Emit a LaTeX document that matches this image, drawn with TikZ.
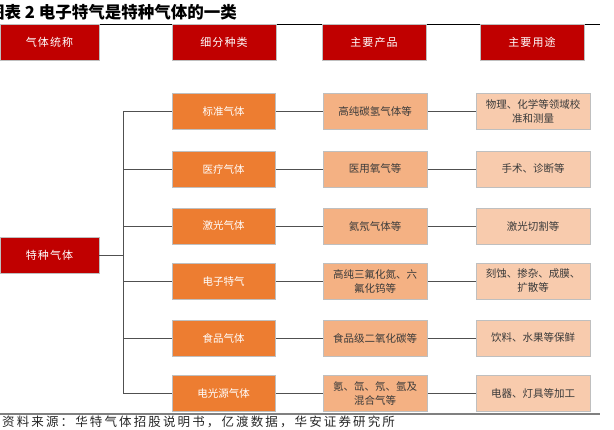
\documentclass[tikz,border=0pt]{standalone}
\usepackage{fontspec}
\setmainfont{Noto Sans CJK SC}
\newfontfamily\cjk{Noto Sans CJK SC}
\newfontfamily\cjkwide{Noto Sans CJK SC}[LetterSpace=17]
\newfontfamily\cjkhdr{Noto Sans CJK SC}[LetterSpace=10]
\definecolor{hdrred}{HTML}{C00000}
\definecolor{orng}{HTML}{ED7D31}
\definecolor{prod}{HTML}{F4B183}
\definecolor{usec}{HTML}{F8CBAD}
\definecolor{bord}{HTML}{BFBFBF}
\definecolor{lnc}{HTML}{505050}
\definecolor{txd}{HTML}{3A3A3A}
\tikzset{
  hdr/.style={fill=hdrred, draw=bord, line width=0.6pt, minimum width=104pt, minimum height=36pt, inner sep=0pt, text=white, font=\cjkhdr\fontsize{11}{13}\selectfont},
  catbox/.style={fill=orng, draw=bord, line width=1pt, minimum width=103pt, minimum height=36pt, inner sep=0pt, text=white, font=\cjk\fontsize{10.5}{13}\selectfont},
  prodbox/.style={fill=prod, draw=bord, line width=1pt, minimum width=104pt, minimum height=36pt, inner sep=0pt, align=center, text=txd, font=\cjk\fontsize{10.5}{14}\selectfont},
  usebox/.style={fill=usec, draw=bord, line width=1pt, minimum width=114pt, minimum height=36pt, inner sep=0pt, align=center, text=txd, font=\cjk\fontsize{10.5}{14}\selectfont},
  conn/.style={draw=lnc, line width=1pt},
}
\begin{document}
\begin{tikzpicture}[x=1pt,y=-1pt]
\useasboundingbox (0,0) rectangle (614,429);
% title
\node[anchor=west, inner sep=0pt, font=\cjk\bfseries\fontsize{16.5}{18}\selectfont] (title) at (-12,12) {图表 2 电子特气是特种气体的一类};
\coordinate (tl0) at (0,24);
\coordinate (tl1) at (600,24);
\draw[black, line width=1pt] (tl0) -- (tl1);
% headers
\node[hdr, minimum width=99pt] (h1) at (49.5,42) {气体统称};
\node[hdr] (h2) at (224,42) {细分种类};
\node[hdr] (h3) at (374,42) {主要产品};
\node[hdr] (h4) at (532,42) {主要用途};
% root
\node[hdr, minimum width=99pt] (root) at (49.5,255) {特种气体};
% trunk
\coordinate (tr) at (123,255);
\coordinate (t1) at (123,111);
\coordinate (t6) at (123,393);
\draw[conn] (root.east) -- (tr);
\draw[conn] (t1) -- (t6);
% rows
\foreach \i/\y/\c/\p/\u in {
  1/111/标准气体/高纯碳氢气体等/物理、化学等领域校\\准和测量,
  2/169/医疗气体/医用氧气等/手术、诊断等,
  3/226/激光气体/氦氖气体等/激光切割等,
  4/281/电子特气/高纯三氟化氮、六\\氟化钨等/刻蚀、掺杂、成膜、\\扩散等,
  5/338/食品气体/食品级二氧化碳等/饮料、水果等保鲜,
  6/393/电光源气体/氪、氙、氖、氩及\\混合气等/电器、灯具等加工}{
  \node[catbox] (c\i) at (223.5,\y) {\c};
  \node[prodbox] (p\i) at (375,\y) {\p};
  \node[usebox] (u\i) at (533,\y) {\u};
  \coordinate (b\i) at (123,\y);
  \draw[conn] (b\i) -- (c\i.west);
  \draw[conn] (c\i.east) -- (p\i.west);
  \draw[conn] (p\i.east) -- (u\i.west);
}
% footer
\coordinate (fl0) at (0,414);
\coordinate (fl1) at (600,414);
\draw[gray, line width=1.5pt] (fl0) -- (fl1);
\node[anchor=west, inner sep=0pt, text=black!85, font=\cjkwide\fontsize{12.5}{13}\selectfont] (src) at (2,422) {资料来源：华特气体招股说明书，亿渡数据，华安证券研究所};
\end{tikzpicture}
\end{document}
